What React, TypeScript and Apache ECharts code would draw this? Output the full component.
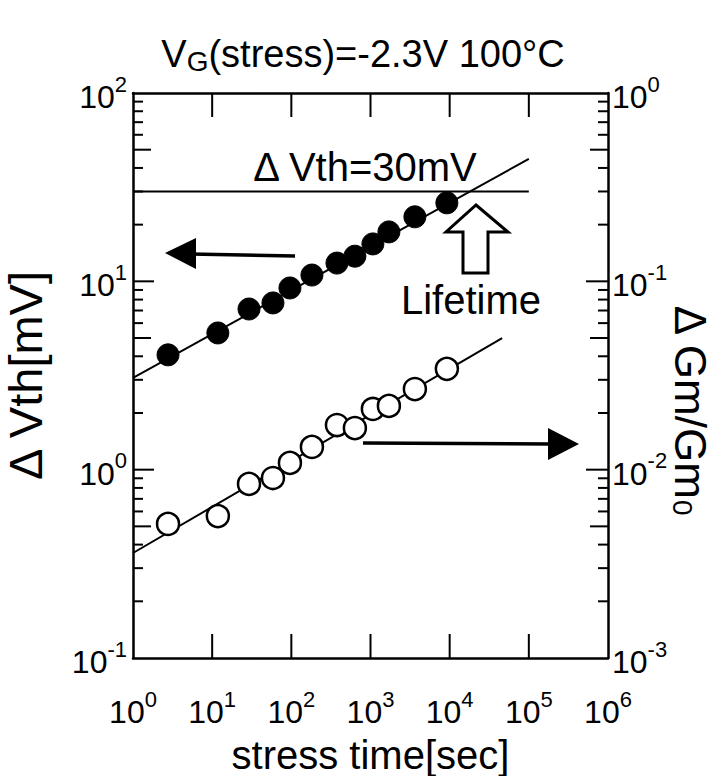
import React, { useEffect, useRef } from 'react';
import * as echarts from 'echarts';

// ---- data ----
const stressTime = [2.77, 11.8, 29.2, 58.6, 96, 182, 377, 635, 1072, 1708, 3636, 9220];
const deltaVth = [4.07, 5.32, 7.13, 7.68, 9.22, 10.8, 12.5, 13.6, 15.8, 18.3, 22.0, 26.1];
const deltaGmRatio = [0.00515, 0.00567, 0.0084, 0.00903, 0.01086, 0.0132, 0.01726, 0.01663, 0.021, 0.0218, 0.0268, 0.0343];

const vthFitTime = [1, 1e5];
const vthFitValue = [3.07, 44.7];
const gmFitTime = [1, 4.6e4];
const gmFitValue = [0.00361, 0.05];
const criterionTime = [1, 1e5];
const criterionValue = [30, 30];

// tick positions
const xMajorTicks = [10, 100, 1000, 10000, 100000];
const leftMajorTicks = [1, 10];
const rightMajorTicks = [0.01, 0.1];
const leftMinorTicks = [0.2, 0.3, 0.4, 0.5, 0.6, 0.7, 0.8, 0.9, 2, 3, 4, 5, 6, 7, 8, 9, 20, 30, 40, 50, 60, 70, 80, 90];
const rightMinorTicks = [0.002, 0.003, 0.004, 0.005, 0.006, 0.007, 0.008, 0.009, 0.02, 0.03, 0.04, 0.05, 0.06, 0.07, 0.08, 0.09, 0.2, 0.3, 0.4, 0.5, 0.6, 0.7, 0.8, 0.9];

const titleText = 'V{sub|G}(stress)=-2.3V 100°C';
const xName = 'stress time[sec]';
const yLeftName = 'Δ Vth[mV]';
const yRightName = 'Δ Gm/Gm{sub|0}';
const criterionLabel = 'Δ Vth=30mV';
const lifetimeLabel = 'Lifetime';

const FONT = '"Liberation Sans", Arial, Helvetica, sans-serif';

const zip = (xs: number[], ys: number[]) => xs.map((x, i) => [x, ys[i]]);

const powLabel = (v: number) => {
  const e = Math.round(Math.log10(v));
  return '{b|10}{s|' + e + '}';
};

const labelRich = {
  b: { fontSize: 32, fontFamily: FONT, color: '#000', verticalAlign: 'bottom', lineHeight: 40 },
  s: { fontSize: 22, fontFamily: FONT, color: '#000', verticalAlign: 'top', lineHeight: 22 },
};

const isHalf = (v: number) => {
  const m = v / Math.pow(10, Math.floor(Math.log10(v) + 1e-9));
  return Math.abs(m - 5) < 0.01;
};

// custom tick series: side = 'left' | 'right' | 'bottom' | 'top'
const tickSeries = (values: number[], side: string, yAxisIndex: number, lenFn: (v: number) => number) => ({
  type: 'custom',
  xAxisIndex: 0,
  yAxisIndex,
  clip: false,
  silent: true,
  z: 5,
  data: values.map((v) =>
    side === 'left' ? [1, v] : side === 'right' ? [1e6, v] : side === 'bottom' ? [v, yAxisIndex === 0 ? 0.1 : 0.001] : [v, yAxisIndex === 0 ? 100 : 1]
  ),
  renderItem: (params: any, api: any) => {
    const xv = api.value(0);
    const yv = api.value(1);
    const p = api.coord([xv, yv]);
    const horizontal = side === 'left' || side === 'right';
    const len = lenFn(horizontal ? yv : xv);
    let x2 = p[0];
    let y2 = p[1];
    if (side === 'left') x2 += len;
    else if (side === 'right') x2 -= len;
    else if (side === 'bottom') y2 -= len;
    else y2 += len;
    return {
      type: 'line',
      shape: { x1: p[0], y1: p[1], x2, y2 },
      style: { stroke: '#000', lineWidth: 2 },
    };
  },
});

export default function App() {
  const ref = useRef<HTMLDivElement>(null);

  useEffect(() => {
    if (!ref.current) return;
    const chart = echarts.init(ref.current, undefined, { renderer: 'svg' });
    const axisLine = { show: true, lineStyle: { color: '#000', width: 2.5 } };
    const noTick = { show: false };

    chart.setOption({
      animation: false,
      backgroundColor: '#fff',
      title: {
        text: titleText,
        left: 'center',
        top: 28,
        textStyle: {
          fontSize: 38,
          fontWeight: 'normal',
          fontFamily: FONT,
          color: '#000',
          rich: {
            sub: { fontSize: 28, fontFamily: FONT, color: '#000', verticalAlign: 'bottom', padding: [14, 0, 0, 0] },
          },
        },
      },
      grid: { left: 133, right: 118, top: 93, bottom: 118, containLabel: false, outerBoundsMode: 'none' },
      xAxis: [
        {
          type: 'log',
          logBase: 10,
          min: 1,
          max: 1e6,
          position: 'bottom',
          name: xName,
          nameLocation: 'middle',
          nameGap: 62,
          nameTextStyle: { fontSize: 40, fontFamily: FONT, color: '#000', lineHeight: 44 },
          axisLine,
          axisTick: noTick,
          axisLabel: {
            margin: 30,
            interval: 0,
            showMinLabel: true,
            showMaxLabel: true,
            formatter: powLabel,
            rich: labelRich,
          },
          splitLine: { show: false },
          minorTick: { show: false },
        },
        {
          type: 'log',
          logBase: 10,
          min: 1,
          max: 1e6,
          position: 'top',
          axisLine,
          axisTick: noTick,
          axisLabel: { show: false },
          splitLine: { show: false },
        },
      ],
      yAxis: [
        {
          type: 'log',
          logBase: 10,
          min: 0.1,
          max: 100,
          position: 'left',
          name: yLeftName,
          nameLocation: 'middle',
          nameGap: 84,
          nameRotate: 90,
          nameTextStyle: { fontSize: 47, fontFamily: FONT, color: '#000' },
          axisLine,
          axisTick: noTick,
          axisLabel: {
            margin: 6,
            showMinLabel: true,
            showMaxLabel: true,
            formatter: powLabel,
            rich: labelRich,
          },
          splitLine: { show: false },
        },
        {
          type: 'log',
          logBase: 10,
          min: 0.001,
          max: 1,
          position: 'right',
          axisLine,
          axisTick: noTick,
          axisLabel: {
            margin: 4,
            showMinLabel: true,
            showMaxLabel: true,
            formatter: powLabel,
            rich: labelRich,
          },
          splitLine: { show: false },
        },
      ],
      series: [
        tickSeries(xMajorTicks, 'bottom', 0, () => 24),
        tickSeries(xMajorTicks, 'top', 0, () => 24),
        tickSeries(leftMajorTicks, 'left', 0, () => 21),
        tickSeries(leftMinorTicks, 'left', 0, (v) => (isHalf(v) ? 18 : 10)),
        tickSeries(rightMajorTicks, 'right', 1, () => 22),
        tickSeries(rightMinorTicks, 'right', 1, (v) => (isHalf(v) ? 18 : 10)),
        {
          name: 'criterion',
          type: 'line',
          xAxisIndex: 0,
          yAxisIndex: 0,
          data: zip(criterionTime, criterionValue),
          symbol: 'none',
          lineStyle: { color: '#000', width: 2 },
          z: 2,
        },
        {
          name: 'Vth fit',
          type: 'line',
          xAxisIndex: 0,
          yAxisIndex: 0,
          data: zip(vthFitTime, vthFitValue),
          symbol: 'none',
          lineStyle: { color: '#000', width: 2 },
          z: 2,
        },
        {
          name: 'Gm fit',
          type: 'line',
          xAxisIndex: 0,
          yAxisIndex: 1,
          data: zip(gmFitTime, gmFitValue),
          symbol: 'none',
          lineStyle: { color: '#000', width: 2 },
          z: 2,
        },
        {
          name: 'ΔVth',
          type: 'scatter',
          xAxisIndex: 0,
          yAxisIndex: 0,
          data: zip(stressTime, deltaVth),
          symbol: 'circle',
          symbolSize: 22,
          itemStyle: { color: '#000', borderColor: '#000', borderWidth: 1, opacity: 1 },
          z: 3,
        },
        {
          name: 'ΔGm/Gm0',
          type: 'scatter',
          xAxisIndex: 0,
          yAxisIndex: 1,
          data: zip(stressTime, deltaGmRatio),
          symbol: 'circle',
          symbolSize: 22,
          itemStyle: { color: '#fff', borderColor: '#000', borderWidth: 2.5, opacity: 1 },
          z: 3,
        },
      ],
      graphic: [
        // left-pointing arrow (filled data -> left axis)
        { type: 'line', shape: { x1: 190, y1: 254, x2: 295, y2: 256 }, style: { stroke: '#000', lineWidth: 3.5 } },
        { type: 'polygon', shape: { points: [[165, 253], [196, 238], [196, 269]] }, style: { fill: '#000' } },
        // right-pointing arrow (open data -> right axis)
        { type: 'line', shape: { x1: 363, y1: 443, x2: 552, y2: 444 }, style: { stroke: '#000', lineWidth: 3.5 } },
        { type: 'polygon', shape: { points: [[579, 444], [548, 428], [548, 460]] }, style: { fill: '#000' } },
        // hollow Lifetime arrow
        {
          type: 'polygon',
          shape: { points: [[476, 205], [508, 232], [488, 232], [488, 273], [463, 273], [463, 232], [446, 232]] },
          style: { fill: '#fff', stroke: '#000', lineWidth: 3 },
          z: 10,
        },
        {
          type: 'text',
          x: 471,
          y: 300,
          style: { text: lifetimeLabel, fontSize: 40, fontFamily: FONT, fill: '#000', align: 'center', verticalAlign: 'middle' },
          z: 10,
        },
        {
          type: 'text',
          x: 365,
          y: 167,
          style: { text: criterionLabel, fontSize: 40, fontFamily: FONT, fill: '#000', align: 'center', verticalAlign: 'middle' },
          z: 10,
        },
        // right axis title, reading downward
        {
          type: 'text',
          x: 690,
          y: 410,
          rotation: -Math.PI / 2,
          style: {
            text: yRightName,
            fontSize: 44,
            fontFamily: FONT,
            fill: '#000',
            align: 'center',
            verticalAlign: 'middle',
            rich: {
              sub: { fontSize: 28, fontFamily: FONT, fill: '#000', verticalAlign: 'bottom', padding: [14, 0, 0, 0] },
            },
          },
          z: 10,
        },
      ],
    });

    return () => chart.dispose();
  }, []);

  return (
    <div
      ref={ref}
      style={{ position: 'fixed', left: 0, top: 0, width: 726, height: 776, background: '#fff' }}
    />
  );
}
